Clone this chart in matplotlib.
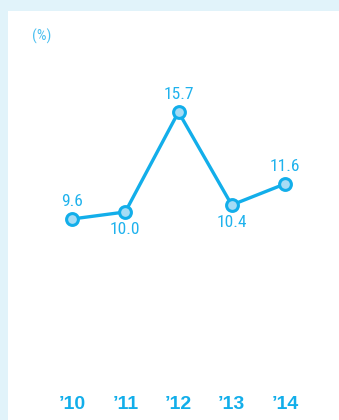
import matplotlib.pyplot as plt
from matplotlib.patches import Rectangle
from matplotlib import font_manager

years = ["\u201910", "\u201911", "\u201912", "\u201913", "\u201914"]
values = [9.6, 10.0, 15.7, 10.4, 11.6]
label_pos = ["above", "below", "above", "below", "above"]

cyan = "#12aeea"
text_cyan = "#1fb2ed"
light = "#a6dcf5"
frame_bg = "#e1f3fa"

# narrowest installed face for the value labels
installed = {f.name for f in font_manager.fontManager.ttflist}
narrow = [n for n in ["Roboto Condensed", "Liberation Sans Narrow", "Roboto"]
          if n in installed][:1] + ["DejaVu Sans"]

W, H = 339, 420
fig = plt.figure(figsize=(W / 100, H / 100), dpi=100)
fig.patch.set_facecolor(frame_bg)

# white panel inside the light border
fig.add_artist(Rectangle((8 / W, 0), 1, 1 - 11 / H, transform=fig.transFigure,
                         facecolor="white", edgecolor="none", zorder=0))

# axes placed in pixels: x 45..312, y 60..360 from the top
ax = fig.add_axes([45.4 / W, (H - 360) / H, (311.6 - 45.4) / W, 300 / H])
ax.set_facecolor("none")
ax.set_xlim(-0.5, 4.5)
ax.set_ylim(1.56, 18.665)
ax.axis("off")

xs = list(range(len(values)))
ax.plot(xs, values, color=cyan, lw=2.4, solid_joinstyle="round", zorder=2)
ax.plot(xs, values, "o", ms=8.5, mfc=light, mec=cyan, mew=2.2, zorder=3)

for x, v, pos in zip(xs, values, label_pos):
    if pos == "above":
        ax.annotate(f"{v:.1f}", (x, v), xytext=(0, 7), textcoords="offset points",
                    ha="center", va="bottom", color=text_cyan, fontsize=12.5,
                    family=narrow)
    else:
        ax.annotate(f"{v:.1f}", (x, v), xytext=(0, -7.5), textcoords="offset points",
                    ha="center", va="top", color=text_cyan, fontsize=12.5,
                    family=narrow)

for x, yr in zip(xs, years):
    ax.text(x, 1.56 - 45 / 17.54, yr, ha="center", va="center", color=cyan,
            fontsize=14, fontweight="bold", family=["Liberation Sans", "DejaVu Sans"],
            clip_on=False)

fig.text(32 / W, 1 - 36 / H, "(%)", ha="left", va="center", color="#4cc0f0",
         fontsize=11, family=narrow)

fig.savefig("out.png", dpi=100, facecolor=fig.get_facecolor())
